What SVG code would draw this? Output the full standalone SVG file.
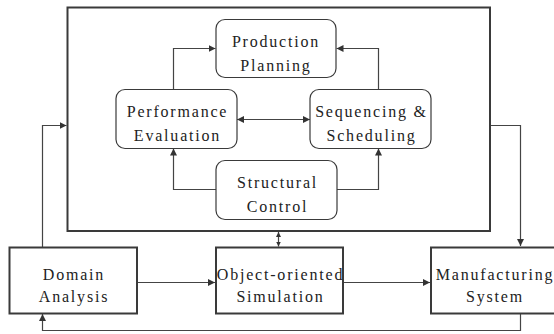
<svg xmlns="http://www.w3.org/2000/svg" width="554" height="334" viewBox="0 0 554 334">
  <style>
    .frame { fill: none; stroke: #3a3a3a; stroke-width: 2; }
    .rbox { fill: #ffffff; stroke: #3a3a3a; stroke-width: 1.2; }
    .box { fill: #ffffff; stroke: #3a3a3a; stroke-width: 2; }
    .label { font-family: 'Liberation Serif', 'DejaVu Serif', serif; font-size: 16px; fill: #222222; text-anchor: middle; letter-spacing: 1.8px; }
    .wire { fill: none; stroke: #444444; stroke-width: 1.2; }
  </style>
  <defs>
    <marker id="arrow" viewBox="0 0 10 10" refX="10" refY="5" markerWidth="7" markerHeight="7" markerUnits="userSpaceOnUse" orient="auto-start-reverse">
      <path d="M0,0 L10,5 L0,10 z" fill="#333333"/>
    </marker>
    <marker id="arrow-small" viewBox="0 0 10 10" refX="10" refY="5" markerWidth="5" markerHeight="5" markerUnits="userSpaceOnUse" orient="auto-start-reverse">
      <path d="M0,0 L10,5 L0,10 z" fill="#333333"/>
    </marker>
  </defs>

  <!-- control system frame -->
  <g id="control-frame">
    <rect class="frame" x="67.5" y="7.5" width="422.5" height="223.5"/>
  </g>

  <!-- connectors -->
  <g id="connectors">
    <polyline class="wire" points="173.5,89 173.5,48.5 215.5,48.5" marker-end="url(#arrow)"/>
    <polyline class="wire" points="378.5,89 378.5,48.5 336.5,48.5" marker-end="url(#arrow)"/>
    <line class="wire" x1="237" y1="119.5" x2="310" y2="119.5" marker-start="url(#arrow)" marker-end="url(#arrow)"/>
    <polyline class="wire" points="216,189.5 173.5,189.5 173.5,148.5" marker-end="url(#arrow)"/>
    <polyline class="wire" points="337,189.5 378.5,189.5 378.5,148.5" marker-end="url(#arrow)"/>
    <line class="wire" x1="278.5" y1="232" x2="278.5" y2="246.5" marker-start="url(#arrow-small)" marker-end="url(#arrow-small)"/>
    <polyline class="wire" points="42.5,247 42.5,125.5 66.5,125.5" marker-end="url(#arrow)"/>
    <polyline class="wire" points="491,125.5 520.5,125.5 520.5,246" marker-end="url(#arrow)"/>
    <line class="wire" x1="137" y1="282.5" x2="215" y2="282.5" marker-end="url(#arrow)"/>
    <line class="wire" x1="343" y1="282.5" x2="430" y2="282.5" marker-end="url(#arrow)"/>
    <polyline class="wire" points="520.5,313 520.5,330.5 42.5,330.5 42.5,314" marker-end="url(#arrow)"/>
  </g>

  <g id="production-planning">
    <rect class="rbox" x="216" y="19.5" width="120" height="58" rx="9"/>
    <text class="label" x="276" y="46.5">Production</text>
    <text class="label" x="276" y="70.5">Planning</text>
  </g>

  <g id="performance-evaluation">
    <rect class="rbox" x="116" y="89.5" width="121" height="59" rx="9"/>
    <text class="label" x="177.5" y="116.5">Performance</text>
    <text class="label" x="177.5" y="140.5">Evaluation</text>
  </g>

  <g id="sequencing-scheduling">
    <rect class="rbox" x="310" y="89.5" width="121" height="59" rx="9"/>
    <text class="label" x="371.5" y="116.5">Sequencing &amp;</text>
    <text class="label" x="371.5" y="140.5">Scheduling</text>
  </g>

  <g id="structural-control">
    <rect class="rbox" x="216" y="160.5" width="121" height="59" rx="9"/>
    <text class="label" x="277.5" y="187.5">Structural</text>
    <text class="label" x="277.5" y="211.5">Control</text>
  </g>

  <g id="domain-analysis">
    <rect class="box" x="9.5" y="247.5" width="127.5" height="66"/>
    <text class="label" x="74" y="280">Domain</text>
    <text class="label" x="74" y="302">Analysis</text>
  </g>

  <g id="object-oriented-simulation">
    <rect class="box" x="216" y="247.5" width="127" height="66"/>
    <text class="label" x="280.5" y="280">Object-oriented</text>
    <text class="label" x="280.5" y="302">Simulation</text>
  </g>

  <g id="manufacturing-system">
    <rect class="box" x="431" y="247.5" width="126" height="66"/>
    <text class="label" x="495" y="280">Manufacturing</text>
    <text class="label" x="495" y="302">System</text>
  </g>
</svg>
